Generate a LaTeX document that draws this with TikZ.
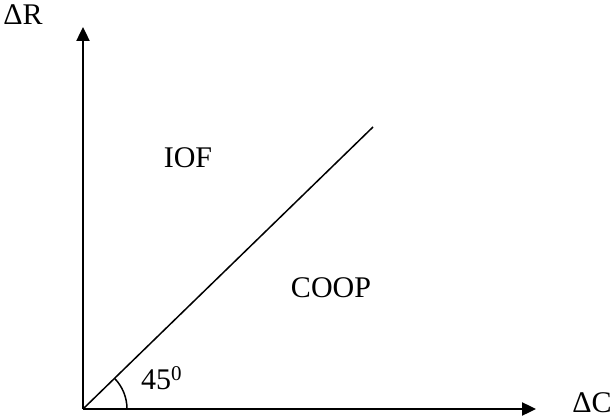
\documentclass[tikz,border=0pt]{standalone}
\usepackage{fontspec}
\setmainfont{Liberation Serif}
\usepackage{tikz}
\usetikzlibrary{arrows.meta}
\usetikzlibrary{angles,quotes}
\tikzset{
  axis line/.style={line width=2.4pt, arrows={-Triangle[length=14pt, width=13pt]}},
  region label/.style={font=\fontsize{30}{34}\selectfont, inner sep=0pt},
}

\begin{document}
\begin{tikzpicture}[x=1pt, y=1pt]
\useasboundingbox (0,0) rectangle (613,418);
\coordinate (O) at (83,9);
\coordinate (y) at (83,391);
\coordinate (x) at (536,9);
\coordinate (D) at (373,291);
\draw [axis line] (O) -- (y);
\draw [axis line] (O) -- (x);
\draw [line width=1.5pt] (O) -- (D);
\node [region label] (dR) at (23,403) {ΔR};
\node [region label] (dC) at (592,15) {ΔC};
\node [region label] (iof) at (188,260) {IOF};
\node [region label] (coop) at (331,130) {COOP};
\node [region label, anchor=west] (ang) at (141,40) {45\textsuperscript{0}};
\draw pic[draw=black, line width=1.5pt, angle radius=44pt] {angle=x--O--D};
\end{tikzpicture}
\end{document}
